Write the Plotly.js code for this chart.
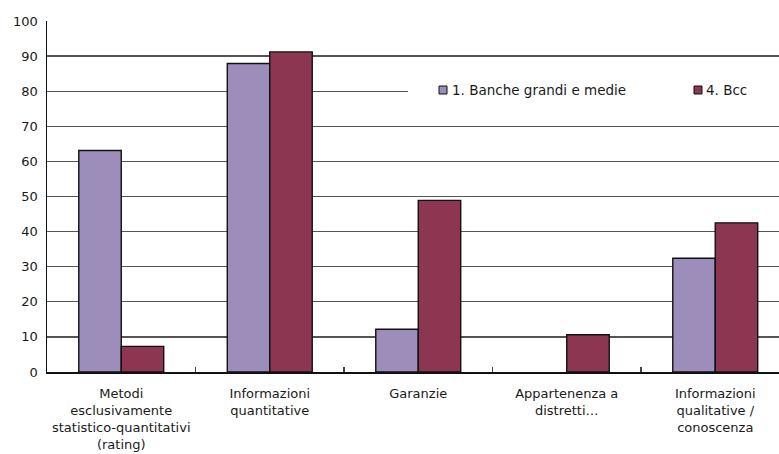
<!DOCTYPE html>
<html>
<head>
<meta charset="utf-8">
<script src="https://cdn.plot.ly/plotly-3.0.1.min.js"></script>
<style>
  html, body { margin: 0; padding: 0; background: #fff; }
  #chart { width: 779px; height: 454px; }
</style>
</head>
<body>
<div id="chart"></div>
<script>
// Criteri utilizzati nella valutazione del merito di credito (% di banche)
const categories = [
  "Metodi<br>esclusivamente<br>statistico-quantitativi<br>(rating)",
  "Informazioni<br>quantitative",
  "Garanzie",
  "Appartenenza a<br>distretti…",
  "Informazioni<br>qualitative /<br>conoscenza"
];
const seriesNames = ["1. Banche grandi e medie", "4. Bcc"];
const banchéGrandi = [63.1, 87.9, 12.2, 0, 32.4];
const bcc = [7.3, 91.2, 48.9, 10.6, 42.5];
const yTicks = [0, 10, 20, 30, 40, 50, 60, 70, 80, 90, 100];

const colors = ["#9d8dbb", "#8c3652"];
const font = "DejaVu Sans";

// plot box in pixels, used to place the legend block in paper units
const W = 779, H = 454, ML = 47, MR = 0, MT = 21, MB = 82;
const pw = W - ML - MR, ph = H - MT - MB;
const px = x => (x - ML) / pw;
const py = y => (H - MB - y) / ph;

const traces = [banchéGrandi, bcc].map((vals, i) => ({
  type: "bar",
  x: categories,
  y: vals,
  name: seriesNames[i],
  marker: {
    color: colors[i],
    // empty bars get no outline
    line: { color: "#111", width: vals.map(v => (v > 0 ? 1.4 : 0)) }
  },
  showlegend: false,
  hoverinfo: "y+name"
}));

// legend: white panel over the gridlines, two swatches and their labels
const legendRows = [
  { sx0: 439, sx1: 447, tx: 450 },
  { sx0: 694, sx1: 702, tx: 704 }
];
const legendY = 90;
const shapes = [
  {
    type: "rect", xref: "paper", yref: "paper", layer: "above",
    x0: px(408), x1: 1, y0: py(107), y1: py(74),
    fillcolor: "#ffffff", line: { width: 0 }
  }
];
const annotations = [];
legendRows.forEach((r, i) => {
  shapes.push({
    type: "rect", xref: "paper", yref: "paper", layer: "above",
    x0: px(r.sx0), x1: px(r.sx1), y0: py(legendY + 4), y1: py(legendY - 4),
    fillcolor: colors[i], line: { color: "#111", width: 1 }
  });
  annotations.push({
    xref: "paper", yref: "paper", x: px(r.tx), y: py(legendY),
    xanchor: "left", yanchor: "middle", showarrow: false,
    text: seriesNames[i],
    font: { family: font, size: 13.5, color: "#1a1a1a" }
  });
});

const layout = {
  width: W, height: H,
  margin: { l: ML, r: MR, t: MT, b: MB, pad: 0 },
  paper_bgcolor: "#fff", plot_bgcolor: "#fff",
  barmode: "group",
  bargap: 0.428,
  bargroupgap: 0,
  showlegend: false,
  font: { family: font, size: 13, color: "#1a1a1a" },
  xaxis: {
    type: "category",
    range: [-0.5, -0.5 + pw / 148.5],
    tickson: "boundaries",
    ticks: "inside", ticklen: 5, tickwidth: 1.2, tickcolor: "#444",
    showline: true, linecolor: "#111", linewidth: 1.5,
    showgrid: false, zeroline: false,
    ticklabelstandoff: 9,
    tickfont: { family: font, size: 13, color: "#1a1a1a" }
  },
  yaxis: {
    range: [0, 100],
    tickvals: yTicks,
    ticktext: yTicks.map(String),
    ticks: "",
    showline: true, linecolor: "#111", linewidth: 1.5,
    showgrid: true, gridcolor: "#555", gridwidth: 1.3,
    zeroline: false,
    ticklabelstandoff: 5,
    tickfont: { family: font, size: 13, color: "#1a1a1a" }
  },
  shapes: shapes,
  annotations: annotations
};

Plotly.newPlot("chart", traces, layout, { displayModeBar: false, staticPlot: true });
</script>
</body>
</html>
